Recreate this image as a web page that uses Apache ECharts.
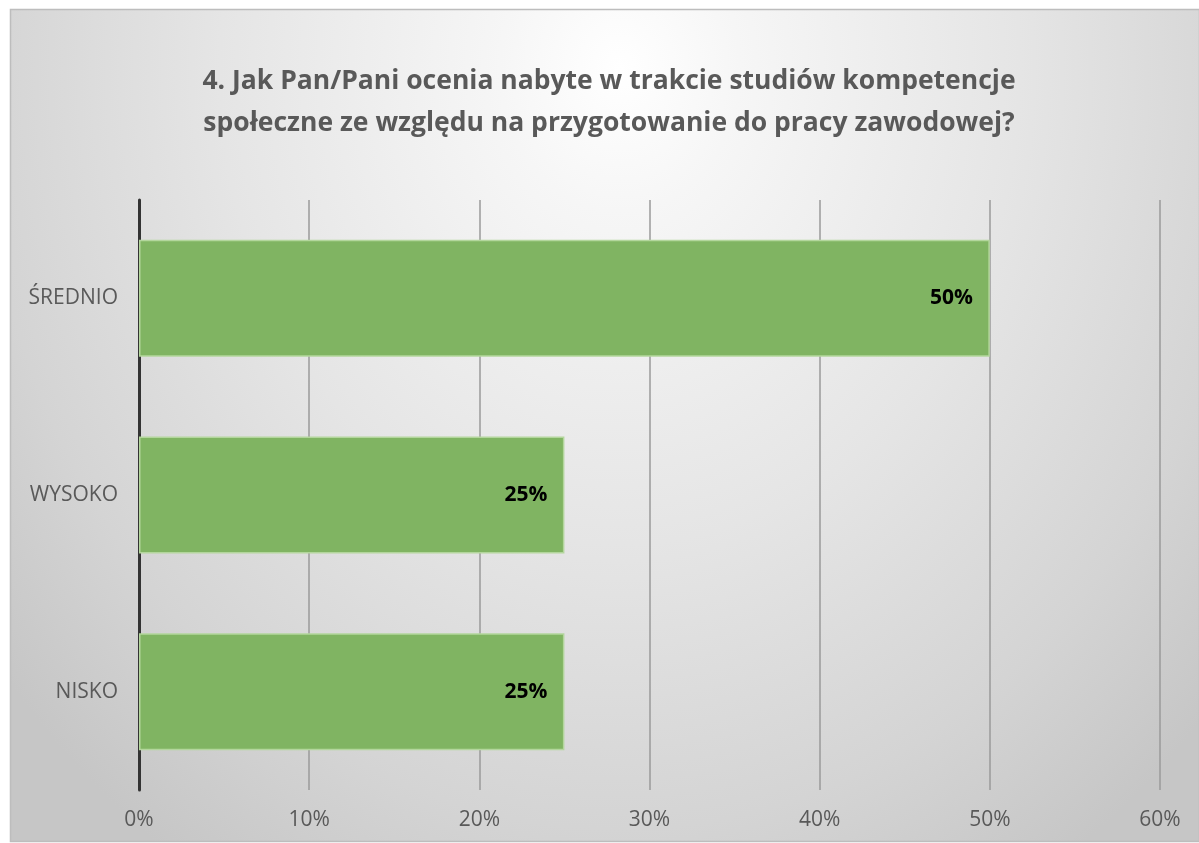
<!DOCTYPE html>
<html>
<head>
<meta charset="utf-8">
<script src="https://cdn.jsdelivr.net/npm/echarts@6/dist/echarts.min.js"></script>
<style>
  html, body { margin: 0; padding: 0; background: #fff; }
  #chart { width: 1199px; height: 843px; }
</style>
</head>
<body>
<div id="chart"></div>
<script>
// dane z wykresu
var titleText = '4. Jak Pan/Pani ocenia nabyte w trakcie studiów kompetencje\nspołeczne ze względu na przygotowanie do pracy zawodowej?'
var categories = ['NISKO', 'WYSOKO', 'ŚREDNIO']
var values = [0.25, 0.25, 0.5]

var chart = echarts.init(document.getElementById('chart'))

// tło: eliptyczny gradient jak w Excelu
var rx = 800, ry = 950
var k = ry / rx
var boxW = 1189, boxH = 832
var innerH = boxH / k

var option = {
  animation: false,
  textStyle: { fontFamily: 'Open Sans' },
  graphic: [
    {
      type: 'rect',
      x: 10, y: 9,
      scaleY: k,
      z: -10,
      silent: true,
      shape: { x: 0, y: 0, width: boxW, height: innerH },
      style: {
        fill: {
          type: 'radial',
          x: 610 / boxW, y: 60 / k / innerH,
          r: rx / Math.min(boxW, innerH),
          colorStops: [
            { offset: 0, color: '#ffffff' },
            { offset: 0.15, color: '#f6f6f6' },
            { offset: 0.5, color: '#e5e5e5' },
            { offset: 0.8, color: '#d4d4d4' },
            { offset: 1, color: '#c6c6c6' }
          ]
        }
      }
    },
    {
      type: 'rect',
      x: 10, y: 9,
      z: -9,
      silent: true,
      shape: { x: 0.5, y: 0.5, width: boxW, height: boxH },
      style: { fill: 'none', stroke: '#bdbdbd', lineWidth: 1.5 }
    }
  ],
  title: {
    text: titleText,
    left: 604,
    top: 55,
    textAlign: 'center',
    textStyle: {
      fontFamily: 'Open Sans',
      fontSize: 26.5,
      fontWeight: 'bold',
      color: '#595959',
      lineHeight: 42
    }
  },
  grid: {
    left: 139,
    right: 39,
    top: 200,
    bottom: 53,
    containLabel: false
  },
  xAxis: {
    type: 'value',
    min: 0,
    max: 0.6,
    interval: 0.1,
    axisLine: { show: false },
    axisTick: { show: false },
    axisLabel: {
      margin: 20,
      fontSize: 21,
      color: '#595959',
      formatter: function (v) { return Math.round(v * 100) + '%' }
    },
    splitLine: {
      lineStyle: { color: '#9a9a9a', width: 1.5 }
    }
  },
  yAxis: {
    type: 'category',
    data: categories,
    axisLine: {
      show: true,
      lineStyle: { color: '#333333', width: 3 }
    },
    axisTick: { show: false },
    axisLabel: {
      margin: 21,
      fontSize: 21,
      color: '#595959'
    }
  },
  series: [
    {
      type: 'bar',
      data: values,
      barWidth: 117,
      itemStyle: {
        color: '#80b462',
        borderColor: '#b3d69c',
        borderWidth: 1.5
      },
      label: {
        show: true,
        position: 'insideRight',
        distance: 17,
        fontSize: 21,
        fontWeight: 'bold',
        color: '#000',
        formatter: function (p) { return Math.round(p.value * 100) + '%' }
      }
    }
  ]
}

chart.setOption(option)
window.addEventListener('resize', function () {
  chart.resize()
})
</script>
</body>
</html>
